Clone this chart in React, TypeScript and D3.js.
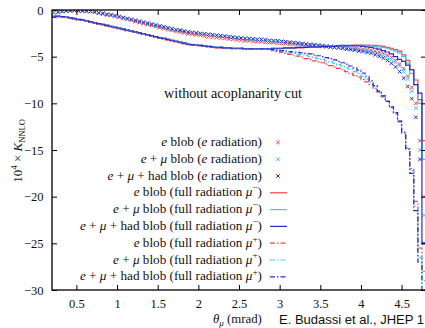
import React, { useEffect, useRef } from 'react';
import * as d3 from 'd3';

// histogram bins: 0.05 mrad wide, from 0.2 to 4.8 mrad (92 bins)
const binEdges = d3.range(0, 93).map((i) => 0.2 + 0.05 * i);

const xTicks = [0.5, 1, 1.5, 2, 2.5, 3, 3.5, 4, 4.5];
const yTicks = [0, -5, -10, -15, -20, -25, -30];

// e radiation (markers)
const markerE = [
  -0.3, -0.2, -0.15, -0.1, -0.1, -0.05, -0.1, -0.1, -0.15, -0.15,
  -0.25, -0.35, -0.45, -0.55, -0.6, -0.7, -0.8, -0.9, -1.0, -1.1,
  -1.25, -1.35, -1.45, -1.55, -1.65, -1.8, -1.9, -2.0, -2.1, -2.2,
  -2.3, -2.35, -2.45, -2.55, -2.6, -2.65, -2.7, -2.8, -2.85, -2.9,
  -2.95, -3.0, -3.05, -3.1, -3.15, -3.2, -3.25, -3.3, -3.3, -3.35,
  -3.4, -3.4, -3.45, -3.5, -3.5, -3.55, -3.6, -3.6, -3.65, -3.7,
  -3.7, -3.75, -3.8, -3.8, -3.85, -3.9, -3.9, -3.95, -3.95, -4.0,
  -4.0, -4.05, -4.05, -4.1, -4.1, -4.15, -4.2, -4.25, -4.3, -4.4,
  -4.5, -4.65, -4.85, -5.1, -5.4, -5.8, -6.3, -7.1, -8.3, -10.0,
  -14.0, -20.0,
];
const markerEMu = [
  -0.25, -0.2, -0.15, -0.1, -0.1, -0.05, -0.05, -0.1, -0.1, -0.15,
  -0.2, -0.3, -0.4, -0.5, -0.55, -0.65, -0.75, -0.85, -0.95, -1.05,
  -1.15, -1.25, -1.35, -1.45, -1.55, -1.65, -1.75, -1.85, -1.95, -2.05,
  -2.15, -2.2, -2.3, -2.4, -2.45, -2.5, -2.55, -2.6, -2.65, -2.7,
  -2.75, -2.8, -2.85, -2.9, -2.95, -3.0, -3.05, -3.1, -3.1, -3.15,
  -3.2, -3.2, -3.25, -3.3, -3.3, -3.35, -3.4, -3.45, -3.5, -3.5,
  -3.55, -3.6, -3.65, -3.7, -3.7, -3.75, -3.8, -3.85, -3.9, -3.95,
  -4.0, -4.05, -4.1, -4.15, -4.2, -4.25, -4.3, -4.4, -4.45, -4.55,
  -4.7, -4.85, -5.05, -5.3, -5.6, -6.0, -6.6, -7.4, -8.7, -10.5,
  -15.0, -22.0,
];
const markerAll = [
  -0.7, -0.25, -0.15, -0.1, -0.05, -0.05, -0.05, -0.1, -0.1, -0.15,
  -0.2, -0.3, -0.35, -0.45, -0.5, -0.6, -0.7, -0.8, -0.9, -1.0,
  -1.1, -1.2, -1.3, -1.4, -1.5, -1.6, -1.7, -1.8, -1.9, -2.0,
  -2.1, -2.15, -2.25, -2.35, -2.4, -2.45, -2.5, -2.55, -2.6, -2.65,
  -2.7, -2.75, -2.8, -2.85, -2.9, -2.95, -3.0, -3.05, -3.05, -3.1,
  -3.15, -3.15, -3.2, -3.25, -3.3, -3.3, -3.35, -3.4, -3.45, -3.5,
  -3.55, -3.6, -3.65, -3.7, -3.75, -3.8, -3.85, -3.9, -3.95, -4.0,
  -4.05, -4.1, -4.2, -4.25, -4.3, -4.4, -4.45, -4.55, -4.65, -4.8,
  -4.95, -5.15, -5.4, -5.7, -6.1, -6.6, -7.3, -8.2, -9.5, -11.5,
  -16.0, -25.0,
];

// full radiation, mu-  (solid steps)
const minusE = [
  -0.65, -0.7, -0.75, -0.8, -0.9, -0.95, -1.05, -1.1, -1.2, -1.3,
  -1.4, -1.5, -1.6, -1.7, -1.8, -1.9, -2.0, -2.1, -2.2, -2.3,
  -2.4, -2.5, -2.6, -2.7, -2.8, -2.9, -3.0, -3.1, -3.2, -3.3,
  -3.4, -3.5, -3.6, -3.7, -3.75, -3.8, -3.85, -3.9, -3.95, -4.0,
  -4.05, -4.05, -4.1, -4.1, -4.15, -4.15, -4.15, -4.2, -4.2, -4.2,
  -4.2, -4.2, -4.2, -4.2, -4.15, -4.15, -4.15, -4.1, -4.1, -4.1,
  -4.05, -4.05, -4.0, -4.0, -4.0, -3.95, -3.95, -3.9, -3.9, -3.85,
  -3.85, -3.8, -3.8, -3.8, -3.75, -3.75, -3.75, -3.75, -3.8, -3.8,
  -3.85, -3.9, -4.0, -4.1, -4.25, -4.4, -4.8, -5.4, -6.4, -7.5,
  -9.6, -14.0,
];
const minusEMu = [
  -0.6, -0.65, -0.7, -0.8, -0.85, -0.95, -1.0, -1.1, -1.2, -1.25,
  -1.35, -1.45, -1.55, -1.65, -1.75, -1.85, -1.95, -2.05, -2.15, -2.25,
  -2.35, -2.45, -2.55, -2.65, -2.75, -2.85, -2.95, -3.05, -3.15, -3.25,
  -3.35, -3.45, -3.55, -3.65, -3.7, -3.75, -3.8, -3.85, -3.9, -3.95,
  -4.0, -4.0, -4.05, -4.05, -4.1, -4.1, -4.1, -4.15, -4.15, -4.15,
  -4.15, -4.15, -4.15, -4.15, -4.1, -4.1, -4.1, -4.05, -4.05, -4.05,
  -4.0, -4.0, -3.95, -3.95, -3.95, -3.9, -3.9, -3.85, -3.85, -3.85,
  -3.8, -3.8, -3.8, -3.8, -3.8, -3.8, -3.8, -3.85, -3.85, -3.9,
  -3.95, -4.0, -4.1, -4.25, -4.4, -4.6, -5.0, -5.7, -6.8, -8.0,
  -10.0, -16.0,
];
const minusAll = [
  -0.75, -0.65, -0.7, -0.75, -0.85, -0.9, -1.0, -1.05, -1.15, -1.25,
  -1.35, -1.45, -1.55, -1.65, -1.75, -1.85, -1.95, -2.05, -2.15, -2.25,
  -2.35, -2.45, -2.55, -2.65, -2.75, -2.85, -2.95, -3.05, -3.15, -3.25,
  -3.35, -3.45, -3.55, -3.65, -3.7, -3.75, -3.8, -3.85, -3.9, -3.95,
  -4.0, -4.0, -4.05, -4.05, -4.1, -4.1, -4.1, -4.15, -4.15, -4.15,
  -4.15, -4.15, -4.15, -4.15, -4.1, -4.1, -4.1, -4.05, -4.05, -4.05,
  -4.0, -4.0, -4.0, -3.95, -3.95, -3.95, -3.9, -3.9, -3.9, -3.9,
  -3.85, -3.85, -3.85, -3.85, -3.85, -3.85, -3.9, -3.95, -4.0, -4.1,
  -4.2, -4.35, -4.5, -4.7, -5.0, -5.3, -5.5, -5.9, -6.4, -8.0,
  -8.9, -25.0,
];

// full radiation, mu+  (dash-dot steps)
const plusE = [
  -0.65, -0.7, -0.75, -0.8, -0.9, -0.95, -1.05, -1.1, -1.2, -1.3,
  -1.4, -1.5, -1.6, -1.7, -1.8, -1.9, -2.0, -2.1, -2.2, -2.3,
  -2.4, -2.5, -2.6, -2.7, -2.8, -2.9, -3.0, -3.1, -3.2, -3.3,
  -3.4, -3.5, -3.6, -3.7, -3.75, -3.8, -3.85, -3.9, -3.95, -4.0,
  -4.05, -4.05, -4.1, -4.1, -4.15, -4.15, -4.15, -4.2, -4.2, -4.2,
  -4.2, -4.2, -4.2, -4.25, -4.35, -4.45, -4.55, -4.65, -4.75, -4.85,
  -4.95, -5.05, -5.2, -5.3, -5.45, -5.55, -5.65, -5.8, -5.95, -6.1,
  -6.25, -6.4, -6.6, -6.8, -7.0, -7.2, -7.45, -7.7, -8.0, -8.4,
  -8.8, -9.3, -9.8, -10.4, -11.1, -12.0, -13.2, -14.8, -17.0, -20.5,
  -25.5, -28.0,
];
const plusEMu = [
  -0.6, -0.65, -0.7, -0.8, -0.85, -0.95, -1.0, -1.1, -1.2, -1.25,
  -1.35, -1.45, -1.55, -1.65, -1.75, -1.85, -1.95, -2.05, -2.15, -2.25,
  -2.35, -2.45, -2.55, -2.65, -2.75, -2.85, -2.95, -3.05, -3.15, -3.25,
  -3.35, -3.45, -3.55, -3.65, -3.7, -3.75, -3.8, -3.85, -3.9, -3.95,
  -4.0, -4.0, -4.05, -4.05, -4.1, -4.1, -4.1, -4.15, -4.15, -4.15,
  -4.15, -4.15, -4.15, -4.2, -4.3, -4.35, -4.45, -4.5, -4.6, -4.65,
  -4.75, -4.8, -4.9, -5.0, -5.1, -5.2, -5.3, -5.45, -5.55, -5.7,
  -5.85, -6.0, -6.2, -6.4, -6.6, -6.8, -7.1, -7.4, -7.8, -8.2,
  -8.7, -9.2, -9.8, -10.4, -11.0, -11.9, -13.1, -14.8, -17.2, -21.0,
  -26.5, -29.0,
];
const plusAll = [
  -0.75, -0.65, -0.7, -0.75, -0.85, -0.9, -1.0, -1.05, -1.15, -1.25,
  -1.35, -1.45, -1.55, -1.65, -1.75, -1.85, -1.95, -2.05, -2.15, -2.25,
  -2.35, -2.45, -2.55, -2.65, -2.75, -2.85, -2.95, -3.05, -3.15, -3.25,
  -3.35, -3.45, -3.55, -3.65, -3.7, -3.75, -3.8, -3.85, -3.9, -3.95,
  -4.0, -4.0, -4.05, -4.05, -4.1, -4.1, -4.1, -4.15, -4.15, -4.15,
  -4.15, -4.15, -4.15, -4.2, -4.25, -4.3, -4.35, -4.4, -4.45, -4.5,
  -4.55, -4.6, -4.65, -4.7, -4.8, -4.9, -5.0, -5.1, -5.2, -5.35,
  -5.5, -5.65, -5.8, -6.0, -6.2, -6.45, -6.75, -7.1, -7.6, -8.1,
  -8.7, -9.2, -9.8, -10.4, -11.0, -11.9, -13.1, -14.9, -17.5, -21.5,
  -27.0, -31.0,
];

const RED = '#ff3c3c';
const CYAN = '#3cc8f8';
const BLUE = '#2b2bd2';

// legend labels: $..$ = italic, ^{..} = superscript
const series = [
  { label: '$e$ blob ($e$ radiation)', values: markerE, color: RED, kind: 'marker' },
  { label: '$e$ + $μ$ blob ($e$ radiation)', values: markerEMu, color: CYAN, kind: 'marker' },
  { label: '$e$ + $μ$ + had blob ($e$ radiation)', values: markerAll, color: BLUE, kind: 'marker' },
  { label: '$e$ blob (full radiation $μ$^{−})', values: minusE, color: RED, kind: 'solid' },
  { label: '$e$ + $μ$ blob (full radiation $μ$^{−})', values: minusEMu, color: CYAN, kind: 'solid' },
  { label: '$e$ + $μ$ + had blob (full radiation $μ$^{−})', values: minusAll, color: BLUE, kind: 'solid' },
  { label: '$e$ blob (full radiation $μ$^{+})', values: plusE, color: RED, kind: 'dashdot' },
  { label: '$e$ + $μ$ blob (full radiation $μ$^{+})', values: plusEMu, color: CYAN, kind: 'dashdot' },
  { label: '$e$ + $μ$ + had blob (full radiation $μ$^{+})', values: plusAll, color: BLUE, kind: 'dashdot' },
];

const W = 425;
const H = 328;
const SERIF = '"Liberation Serif", "Times New Roman", serif';
const DASHDOT = '5,2,1.5,2';
const CROSS = 'M-1.8,-1.8L1.8,1.8M-1.8,1.8L1.8,-1.8';

function richText(text: any, src: string, size: number) {
  const re = /\$([^$]+)\$|\^\{([^}]+)\}|([^$^]+)/g;
  let m: RegExpExecArray | null;
  let shifted = 0;
  while ((m = re.exec(src))) {
    const t = text.append('tspan');
    if (m[2]) {
      t.attr('dy', -size * 0.4).attr('font-size', size * 0.7).text(m[2]);
      shifted = size * 0.4;
    } else {
      if (shifted) t.attr('dy', shifted);
      shifted = 0;
      if (m[1]) t.attr('font-style', 'italic').text(m[1]);
      else t.text(m[3]);
    }
  }
}

export default function App() {
  const svgRef = useRef<SVGSVGElement>(null);

  useEffect(() => {
    if (!svgRef.current) return;
    const svg = d3.select(svgRef.current);
    svg.selectAll('*').remove();

    const x = d3.scaleLinear().domain([0.2, 4.8]).range([52, 426]);
    const y = d3.scaleLinear().domain([-30, 0]).range([290, 10]);

    svg.append('rect').attr('width', W).attr('height', H).attr('fill', '#fff');

    svg
      .append('defs')
      .append('clipPath')
      .attr('id', 'plot-clip')
      .append('rect')
      .attr('x', 52)
      .attr('y', 10)
      .attr('width', 374)
      .attr('height', 280);

    const data = svg.append('g').attr('clip-path', 'url(#plot-clip)');

    // histogram step path for a series
    const stepLine = d3
      .line<[number, number]>()
      .x((d) => x(d[0]))
      .y((d) => y(d[1]));

    series.forEach((s) => {
      if (s.kind === 'marker') {
        data
          .append('g')
          .selectAll('path')
          .data(s.values)
          .join('path')
          .attr('transform', (v, i) => `translate(${x((binEdges[i] + binEdges[i + 1]) / 2)},${y(v)})`)
          .attr('d', CROSS)
          .attr('stroke', s.color)
          .attr('stroke-width', 1)
          .attr('fill', 'none');
      } else {
        const pts: [number, number][] = [];
        s.values.forEach((v, i) => {
          pts.push([binEdges[i], v], [binEdges[i + 1], v]);
        });
        data
          .append('path')
          .attr('d', stepLine(pts))
          .attr('fill', 'none')
          .attr('stroke', s.color)
          .attr('stroke-width', 1.2)
          .attr('stroke-dasharray', s.kind === 'dashdot' ? DASHDOT : null);
      }
    });

    // axes with inward ticks on all four sides
    const styleAxis = (g: any) => {
      g.attr('font-family', SERIF);
      g.select('.domain').remove();
      g.selectAll('line').attr('stroke', '#000').attr('stroke-width', 1);
      g.selectAll('text')
        .attr('font-family', SERIF)
        .attr('font-size', 12.5)
        .attr('fill', '#111');
    };

    svg
      .append('g')
      .attr('transform', 'translate(0,290)')
      .call(d3.axisBottom(x).tickValues(xTicks).tickSize(-5).tickPadding(9).tickFormat(d3.format('')))
      .call(styleAxis);
    svg
      .append('g')
      .attr('transform', 'translate(0,10)')
      .call(d3.axisTop(x).tickValues(xTicks).tickSize(-5).tickFormat(() => ''))
      .call(styleAxis);
    svg
      .append('g')
      .attr('transform', 'translate(52,0)')
      .call(d3.axisLeft(y).tickValues(yTicks).tickSize(-5).tickPadding(8.5))
      .call(styleAxis);
    svg
      .append('g')
      .attr('transform', 'translate(426,0)')
      .call(d3.axisRight(y).tickValues(yTicks).tickSize(-5).tickFormat(() => ''))
      .call(styleAxis);

    svg
      .append('rect')
      .attr('x', 52)
      .attr('y', 10)
      .attr('width', 374)
      .attr('height', 280)
      .attr('fill', 'none')
      .attr('stroke', '#000')
      .attr('stroke-width', 1.3);

    // annotation
    svg
      .append('text')
      .attr('x', 233)
      .attr('y', 97.5)
      .attr('text-anchor', 'middle')
      .attr('font-family', SERIF)
      .attr('font-size', 14.2)
      .attr('fill', '#111')
      .text('without acoplanarity cut');

    // legend
    const legend = svg.append('g');
    series.forEach((s, i) => {
      const base = 146 + i * 16.8;
      const t = legend
        .append('text')
        .attr('x', 262)
        .attr('y', base)
        .attr('text-anchor', 'end')
        .attr('font-family', SERIF)
        .attr('font-size', 13.2)
        .attr('fill', '#111');
      richText(t, s.label, 13.2);
      const cy = base - 3.6;
      if (s.kind === 'marker') {
        legend
          .append('path')
          .attr('transform', `translate(278,${cy})`)
          .attr('d', CROSS)
          .attr('stroke', s.color)
          .attr('stroke-width', 1)
          .attr('fill', 'none');
      } else {
        legend
          .append('line')
          .attr('x1', 270)
          .attr('x2', 287)
          .attr('y1', cy)
          .attr('y2', cy)
          .attr('stroke', s.color)
          .attr('stroke-width', 1.2)
          .attr('stroke-dasharray', s.kind === 'dashdot' ? DASHDOT : null);
      }
    });

    // axis titles
    const xl = svg
      .append('text')
      .attr('x', 213)
      .attr('y', 323)
      .attr('font-family', SERIF)
      .attr('font-size', 12.8)
      .attr('fill', '#111');
    xl.append('tspan').attr('font-style', 'italic').text('θ');
    xl.append('tspan').attr('font-style', 'italic').attr('font-size', 9).attr('dy', 2.5).text('μ');
    xl.append('tspan').attr('dy', -2.5).text(' (mrad)');

    const yl = svg
      .append('text')
      .attr('transform', 'translate(22,151) rotate(-90)')
      .attr('text-anchor', 'middle')
      .attr('font-family', SERIF)
      .attr('font-size', 13)
      .attr('fill', '#111');
    yl.append('tspan').text('10');
    yl.append('tspan').attr('font-size', 9).attr('dy', -5).text('4');
    yl.append('tspan').attr('dy', 5).text(' × ');
    yl.append('tspan').attr('font-style', 'italic').text('K');
    yl.append('tspan').attr('font-size', 8.5).attr('dy', 3).text('NNLO');

    // citation, cropped at the right edge as in the source figure
    svg
      .append('text')
      .attr('x', 279)
      .attr('y', 324)
      .attr('font-family', '"Liberation Sans", Arial, sans-serif')
      .attr('font-size', 13)
      .attr('fill', '#111')
      .text('E. Budassi et al., JHEP 1');
  }, []);

  return (
    <div style={{ position: 'fixed', left: 0, top: 0 }}>
      <svg ref={svgRef} width={W} height={H} style={{ display: 'block', overflow: 'hidden' }} />
    </div>
  );
}
